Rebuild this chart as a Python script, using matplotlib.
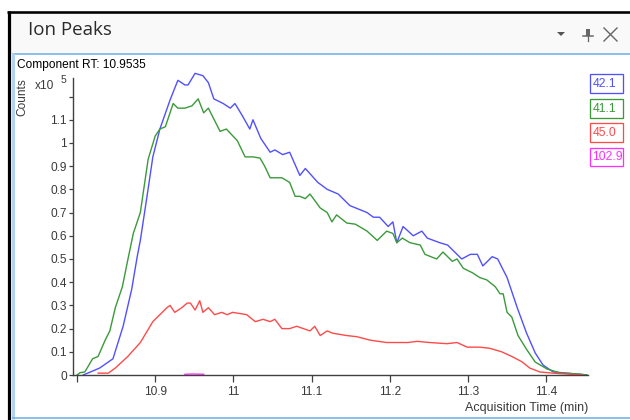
import matplotlib
matplotlib.use("Agg")
import matplotlib.pyplot as plt
from matplotlib.patches import Rectangle, Polygon
from matplotlib.lines import Line2D

# ---------------- data (x10^5 counts vs acquisition time, min) ----------------
t_421 = [10.808, 10.829, 10.846, 10.859, 10.870, 10.877, 10.881, 10.890, 10.897, 10.906,
         10.919, 10.929, 10.938, 10.942, 10.951, 10.961, 10.968, 10.975, 10.987, 10.996,
         11.002, 11.011, 11.021, 11.025, 11.035, 11.047, 11.053, 11.063, 11.072, 11.085,
         11.092, 11.108, 11.120, 11.134, 11.149, 11.171, 11.179, 11.187, 11.198, 11.204,
         11.209, 11.217, 11.230, 11.241, 11.248, 11.264, 11.274, 11.283, 11.292, 11.303,
         11.312, 11.319, 11.331, 11.338, 11.350, 11.363, 11.375, 11.386, 11.396, 11.409,
         11.427, 11.452]
v_421 = [0.0, 0.03, 0.07, 0.21, 0.37, 0.51, 0.58, 0.78, 0.94, 1.06,
         1.185, 1.27, 1.25, 1.25, 1.30, 1.29, 1.26, 1.19, 1.17, 1.15,
         1.17, 1.12, 1.06, 1.10, 1.02, 0.96, 0.97, 0.95, 0.96, 0.86,
         0.89, 0.83, 0.80, 0.78, 0.73, 0.70, 0.68, 0.68, 0.64, 0.66,
         0.57, 0.64, 0.60, 0.62, 0.59, 0.57, 0.56, 0.53, 0.50, 0.52,
         0.52, 0.47, 0.51, 0.50, 0.42, 0.29, 0.18, 0.095, 0.043, 0.013,
         0.008, 0.0]

t_411 = [10.800, 10.804, 10.810, 10.820, 10.827, 10.836, 10.842, 10.849, 10.858, 10.864,
         10.872, 10.881, 10.891, 10.900, 10.906, 10.913, 10.923, 10.929, 10.938, 10.947,
         10.955, 10.962, 10.968, 10.983, 10.991, 11.005, 11.015, 11.025, 11.034, 11.040,
         11.047, 11.062, 11.072, 11.079, 11.085, 11.092, 11.098, 11.111, 11.120, 11.126,
         11.132, 11.145, 11.156, 11.171, 11.184, 11.196, 11.204, 11.209, 11.216, 11.226,
         11.239, 11.245, 11.260, 11.268, 11.280, 11.286, 11.294, 11.306, 11.315, 11.324,
         11.335, 11.341, 11.345, 11.350, 11.356, 11.364, 11.375, 11.386, 11.401, 11.418,
         11.443, 11.452]
v_411 = [0.0, 0.01, 0.013, 0.07, 0.08, 0.15, 0.19, 0.29, 0.38, 0.48,
         0.61, 0.70, 0.93, 1.03, 1.06, 1.07, 1.17, 1.15, 1.15, 1.16,
         1.19, 1.13, 1.15, 1.05, 1.06, 1.01, 0.94, 0.94, 0.935, 0.90,
         0.85, 0.85, 0.83, 0.77, 0.77, 0.76, 0.78, 0.72, 0.70, 0.66,
         0.69, 0.655, 0.65, 0.62, 0.58, 0.62, 0.61, 0.57, 0.59, 0.57,
         0.56, 0.52, 0.50, 0.53, 0.49, 0.50, 0.46, 0.44, 0.42, 0.41,
         0.38, 0.35, 0.35, 0.27, 0.25, 0.17, 0.11, 0.056, 0.026, 0.009,
         0.004, 0.0]

t_450 = [10.827, 10.840, 10.849, 10.865, 10.881, 10.897, 10.906, 10.915, 10.919, 10.925,
         10.934, 10.941, 10.945, 10.951, 10.957, 10.961, 10.968, 10.976, 10.985, 10.992,
         10.999, 11.017, 11.028, 11.038, 11.047, 11.053, 11.062, 11.072, 11.081, 11.098,
         11.104, 11.111, 11.120, 11.127, 11.145, 11.158, 11.175, 11.196, 11.213, 11.223,
         11.235, 11.251, 11.273, 11.286, 11.299, 11.315, 11.328, 11.343, 11.356, 11.369,
         11.379, 11.392, 11.409, 11.427, 11.447]
v_450 = [0.008, 0.008, 0.03, 0.08, 0.14, 0.23, 0.26, 0.29, 0.30, 0.27,
         0.29, 0.31, 0.31, 0.28, 0.32, 0.27, 0.29, 0.26, 0.27, 0.26,
         0.27, 0.26, 0.23, 0.24, 0.23, 0.24, 0.20, 0.20, 0.21, 0.19,
         0.21, 0.17, 0.19, 0.18, 0.17, 0.165, 0.15, 0.14, 0.14, 0.14,
         0.145, 0.14, 0.135, 0.14, 0.12, 0.12, 0.115, 0.10, 0.08, 0.057,
         0.03, 0.013, 0.008, 0.004, 0.0]

t_1029 = [10.938, 10.945, 10.952, 10.962]
v_1029 = [0.003, 0.004, 0.004, 0.003]

series_names = ["42.1", "41.1", "45.0", "102.9"]
series_colors = ["#5050ff", "#3a9a3a", "#ff4a4a", "#ff30ff"]

x_ticks = [10.8, 10.9, 11.0, 11.1, 11.2, 11.3, 11.4]
x_tick_labels = ["", "10.9", "11", "11.1", "11.2", "11.3", "11.4"]
y_ticks = [0, 0.1, 0.2, 0.3, 0.4, 0.5, 0.6, 0.7, 0.8, 0.9, 1.0, 1.1, 1.2]
y_tick_labels = ["0", "0.1", "0.2", "0.3", "0.4", "0.5", "0.6", "0.7", "0.8", "0.9", "1", "1.1", ""]

# ---------------- figure & window chrome ----------------
W, H = 630, 420
fig = plt.figure(figsize=(W / 100, H / 100), dpi=100)
fig.patch.set_facecolor("white")
plt.rcParams["font.family"] = ["Liberation Sans", "DejaVu Sans"]


def fx(x):
    return x / W


def fy(y):
    return 1 - y / H


def px2pt(p):
    return p * 72 / 100


tf = fig.transFigure
# title bar background
fig.add_artist(Rectangle((fx(10), fy(53)), fx(620), 40 / H, transform=tf,
                         facecolor="#f9f9f9", edgecolor="none", zorder=0))
# black outer frame (top + left)
fig.add_artist(Line2D([fx(7), fx(630)], [fy(12), fy(12)], transform=tf,
                      color="black", lw=px2pt(2.6), solid_capstyle="butt"))
fig.add_artist(Line2D([fx(8.6), fx(8.6)], [fy(11), fy(420)], transform=tf,
                      color="black", lw=px2pt(3.2), solid_capstyle="butt"))
# panel borders
fig.add_artist(Line2D([fx(11.5), fx(630)], [fy(53.5), fy(53.5)], transform=tf,
                      color="#6fb0e8", lw=px2pt(1.6), solid_capstyle="butt"))
fig.add_artist(Line2D([fx(12.8), fx(12.8)], [fy(53), fy(418.5)], transform=tf,
                      color="#b3d4f0", lw=px2pt(3.0), solid_capstyle="butt"))
fig.add_artist(Line2D([fx(11.5), fx(630)], [fy(418), fy(418)], transform=tf,
                      color="#6fb0e8", lw=px2pt(1.6), solid_capstyle="butt"))

fig.text(fx(28), fy(30), "Ion Peaks", fontsize=13.5, color="#2a2a2a",
         family=["Open Sans", "DejaVu Sans"], va="center", ha="left")

# window icons: dropdown triangle, pin, close
fig.add_artist(Polygon([[fx(557), fy(32)], [fx(565), fy(32)], [fx(561), fy(36)]],
                       closed=True, transform=tf, facecolor="#555555", edgecolor="none"))
fig.add_artist(Rectangle((fx(586), fy(36)), 4 / W, 7 / H, transform=tf,
                         facecolor="#666666", edgecolor="none"))
fig.add_artist(Line2D([fx(583), fx(593)], [fy(36), fy(36)], transform=tf,
                      color="#666666", lw=px2pt(1.5)))
fig.add_artist(Line2D([fx(588), fx(588)], [fy(36), fy(41)], transform=tf,
                      color="#666666", lw=px2pt(1.3)))
fig.add_artist(Line2D([fx(604), fx(617)], [fy(28), fy(41)], transform=tf,
                      color="#666666", lw=px2pt(1.4)))
fig.add_artist(Line2D([fx(604), fx(617)], [fy(41), fy(28)], transform=tf,
                      color="#666666", lw=px2pt(1.4)))

# ---------------- axes ----------------
ax_left, ax_right, ax_top, ax_bottom = 73, 588, 78, 375
ax = fig.add_axes([fx(ax_left), fy(ax_bottom), (ax_right - ax_left) / W,
                   (ax_bottom - ax_top) / H])
ax.set_facecolor("white")

series = [(t_421, v_421), (t_411, v_411), (t_450, v_450), (t_1029, v_1029)]
for (t, v), c in zip(series, series_colors):
    ax.plot(t, v, color=c, lw=1.0, clip_on=False)

ax.set_xlim(10.7949, 11.4535)
ax.set_ylim(0, 1.28)
ax.set_xticks(x_ticks)
ax.set_xticklabels(x_tick_labels)
ax.set_yticks(y_ticks)
ax.set_yticklabels(y_tick_labels)
for s in ("top", "right"):
    ax.spines[s].set_visible(False)
for s in ("left", "bottom"):
    ax.spines[s].set_color("#404040")
    ax.spines[s].set_linewidth(1.0)
ax.tick_params(axis="x", direction="out", length=5, width=0.9, color="#404040",
               labelsize=8.6, labelcolor="#3a3a3a", pad=3)
ax.tick_params(axis="y", direction="out", length=3, width=0.9, color="#404040",
               labelsize=8.6, labelcolor="#3a3a3a", pad=1.5)

# chart texts
fig.text(fx(17), fy(65), "Component RT: 10.9535", fontsize=8.6, color="black",
         va="center", ha="left")
fig.text(fx(22.5), fy(97), "Counts", fontsize=8.6, color="#3a3a3a", rotation=90,
         va="center", ha="center")
fig.text(fx(35), fy(86), "x10", fontsize=8.6, color="#3a3a3a", va="center", ha="left")
fig.text(fx(61), fy(80), "5", fontsize=7.5, color="#3a3a3a", va="center", ha="left")
fig.text(fx(588), fy(408), "Acquisition Time (min)", fontsize=9, color="#3a3a3a",
         va="center", ha="right")

# legend boxes
box_tops = [74, 98.5, 123, 147.5]
for name, c, top in zip(series_names, series_colors, box_tops):
    fig.add_artist(Rectangle((fx(590), fy(top + 19)), 33 / W, 19 / H, transform=tf,
                             facecolor="white", edgecolor=c, lw=px2pt(1.3)))
    fig.text(fx(592.5), fy(top + 10), name, fontsize=8.8, color=c, va="center", ha="left")

fig.savefig("out.png", dpi=100)
